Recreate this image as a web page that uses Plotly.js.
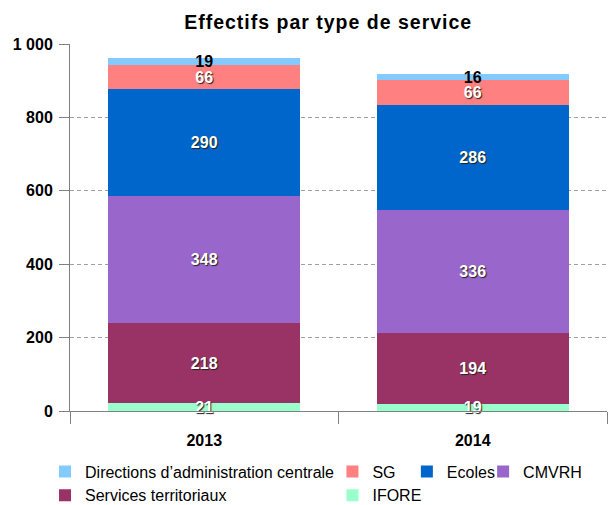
<!DOCTYPE html>
<html>
<head>
<meta charset="utf-8">
<script src="https://cdn.plot.ly/plotly-3.0.1.min.js"></script>
<style>
html,body{margin:0;padding:0;background:#fff;}
#chart{width:610px;height:505px;}
#chart .gtitle{letter-spacing:1px;}
</style>
</head>
<body>
<div id="chart"></div>
<script>
const years = ['2013', '2014'];
const seriesNames = ['IFORE', 'Services territoriaux', 'CMVRH', 'Ecoles', 'SG', "Directions d’administration centrale"];
const ifore = [21, 19];
const servicesTerritoriaux = [218, 194];
const cmvrh = [348, 336];
const ecoles = [290, 286];
const sg = [66, 66];
const directions = [19, 16];
const yTickVals = [0, 200, 400, 600, 800, 1000];
const yTickText = ['0', '200', '400', '600', '800', '1 000'];

const colors = ['#99FFCC', '#993366', '#9966CC', '#0066CC', '#FF8080', '#83CAFF'];
const legendIds = ['legend2', 'legend', 'legend4', 'legend3', 'legend2', 'legend'];
const values = [ifore, servicesTerritoriaux, cmvrh, ecoles, sg, directions];
const font = 'Liberation Sans, Arial, sans-serif';

const traces = values.map((v, i) => {
  const dark = i === 5;
  return {
    type: 'bar',
    name: seriesNames[i],
    x: years,
    y: v,
    text: v.map(String),
    textposition: 'inside',
    insidetextanchor: 'middle',
    constraintext: 'none',
    cliponaxis: false,
    textangle: 0,
    textfont: {
      family: font, size: 16, weight: 'bold',
      color: dark ? '#000000' : '#FFFFFF',
      shadow: dark ? 'none' : '1px 1px 1px #222'
    },
    marker: {color: colors[i], line: {width: 0}},
    legend: legendIds[i],
    hoverinfo: 'none'
  };
});

const legBase = {
  orientation: 'v', traceorder: 'reversed', xref: 'container', yref: 'container',
  yanchor: 'top', xanchor: 'left', y: 0.1, font: {family: font, size: 16, color: '#000'},
  bgcolor: 'rgba(0,0,0,0)', itemwidth: 30, tracegroupgap: 0
};

const layout = {
  width: 610, height: 505,
  margin: {l: 70, r: 3, t: 44, b: 94, autoexpand: false},
  paper_bgcolor: '#fff', plot_bgcolor: '#fff',
  barmode: 'stack', bargap: 0.285,
  title: {text: '<b>Effectifs par type de service</b>', font: {family: font, size: 19.5, color: '#000'},
          x: 0.538, xanchor: 'center', y: 0.956, yanchor: 'middle'},
  xaxis: {
    type: 'category', range: [-0.5, 1.5], showgrid: false, showline: true, linecolor: '#808080', linewidth: 1,
    ticks: 'outside', tickson: 'boundaries', ticklen: 12, tickcolor: '#808080',
    tickfont: {family: font, size: 16, weight: 'bold', color: '#000'}, automargin: false,
    ticklabelstandoff: 15
  },
  yaxis: {
    range: [0, 1000], tickvals: yTickVals, ticktext: yTickText,
    showline: true, linecolor: '#808080', linewidth: 1,
    ticks: 'outside', ticklen: 10, tickcolor: '#808080',
    showgrid: true, gridcolor: '#a0a0a0', griddash: '4px,3px', gridwidth: 1,
    zeroline: false, automargin: false, ticklabelstandoff: 3,
    tickfont: {family: font, size: 16, weight: 'bold', color: '#000'}
  },
  showlegend: true,
  legend: Object.assign({}, legBase, {x: 0.0738}),
  legend2: Object.assign({}, legBase, {x: 0.545}),
  legend3: Object.assign({}, legBase, {x: 0.667}),
  legend4: Object.assign({}, legBase, {x: 0.792}),
  font: {family: font}
};

Plotly.newPlot('chart', traces, layout, {displayModeBar: false, staticPlot: true}).then(gd => {
  // keep value labels above neighbouring bar segments
  const layer = gd.querySelector('.barlayer');
  if (!layer) return;
  const top = document.createElementNS('http://www.w3.org/2000/svg', 'g');
  top.setAttribute('class', 'toptext');
  layer.querySelectorAll('text.bartext').forEach(t => top.appendChild(t));
  layer.appendChild(top);
});
</script>
</body>
</html>
